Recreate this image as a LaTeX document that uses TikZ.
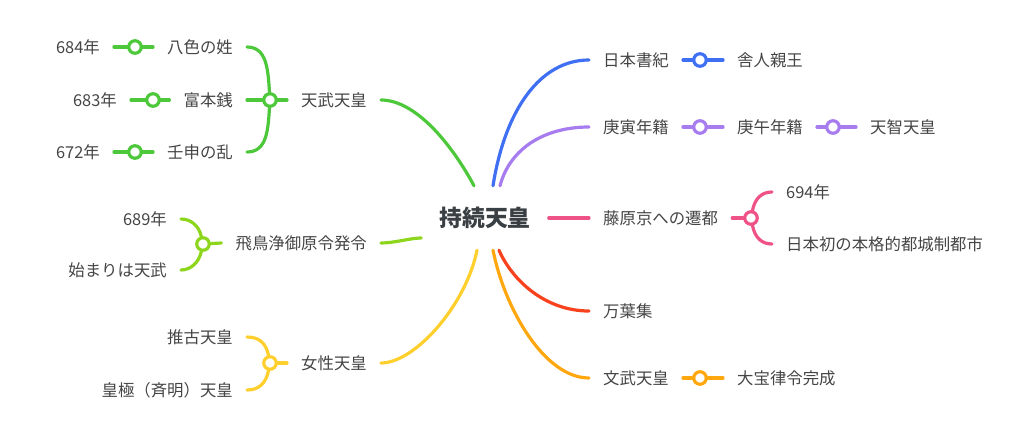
\documentclass[tikz,border=0pt]{standalone}
\usepackage{fontspec}
\setmainfont{Noto Sans CJK JP}
\definecolor{cGreen}{HTML}{4CC83A}
\definecolor{cLime}{HTML}{8ED51E}
\definecolor{cYellow}{HTML}{FFCF2E}
\definecolor{cBlue}{HTML}{3F6FF2}
\definecolor{cPurple}{HTML}{A67CEF}
\definecolor{cPink}{HTML}{EF5287}
\definecolor{cRed}{HTML}{F7421D}
\definecolor{cOrange}{HTML}{FFA70F}
\definecolor{cText}{HTML}{454545}
\definecolor{cRoot}{HTML}{3A3F44}
\begin{document}
\begin{tikzpicture}[x=1pt, y=-1pt,
                    knot/.style = {shape = circle,
                                   draw = #1,
                                   fill = white,
                                   line width = 3.2pt,
                                   inner sep = 0pt,
                                   minimum size = 12.5pt},
                    tline/.style = {line width = 3.2pt, line cap = round},
                    lbl/.style = {font = \fontsize{16.4}{16.4}\selectfont,
                                  text = cText,
                                  inner xsep = 14pt,
                                  text height = 13.7pt,
                                  text depth = 1.3pt},
                    lleft/.style = {lbl, anchor = east},
                    lright/.style = {lbl, anchor = west},
                    root/.style = {font = \fontsize{22.8}{22.8}\selectfont\bfseries,
                                   text = cRoot,
                                   inner xsep = 18pt,
                                   minimum height = 64pt,
                                   text height = 19.1pt,
                                   text depth = 1.8pt}]
		\useasboundingbox (0,0) rectangle (1023,442);
		\node[root] (c) at (485,218) {持続天皇};
		\coordinate (cg) at ([xshift=-11pt]c.north);
		\coordinate (cb) at ([xshift=8pt]c.north);
		\coordinate (cp) at ([xshift=15pt]c.north);
		\coordinate (cy) at ([xshift=-8pt]c.south);
		\coordinate (co) at ([xshift=8pt]c.south);
		\coordinate (cr) at ([xshift=14pt]c.south);
		\coordinate (cl) at ([yshift=-20pt]c.west);
		% left side
		\node[lleft] (tenmu) at (381,100) {天武天皇};
		\node[lleft] (asuka) at (381,243) {飛鳥浄御原令発令};
		\node[lleft] (josei) at (381,363) {女性天皇};
		\node[lleft] (yakusa) at (247,47) {八色の姓};
		\node[lleft] (fuhon) at (247,100) {富本銭};
		\node[lleft] (jinshin) at (247,152) {壬申の乱};
		\node[lleft] (y684) at (114,47) {684年};
		\node[lleft] (y683) at (131,100) {683年};
		\node[lleft] (y672) at (114,152) {672年};
		\node[lleft] (y689) at (181,219) {689年};
		\node[lleft] (hajime) at (181,270) {始まりは天武};
		\node[lleft] (suiko) at (247,337) {推古天皇};
		\node[lleft] (kogyoku) at (247,390) {皇極（斉明）天皇};
		% right side
		\node[lright] (shoki) at (589,60) {日本書紀};
		\node[lright] (toneri) at (723,60) {舎人親王};
		\node[lright] (koin) at (589,127) {庚寅年籍};
		\node[lright] (kogo) at (723,127) {庚午年籍};
		\node[lright] (tenji) at (856,127) {天智天皇};
		\node[lright] (fujiwara) at (589,218) {藤原京への遷都};
		\node[lright] (y694) at (772,192) {694年};
		\node[lright] (toshi) at (772,244) {日本初の本格的都城制都市};
		\node[lright] (manyo) at (589,311) {万葉集};
		\node[lright] (monmu) at (589,378) {文武天皇};
		\node[lright] (taiho) at (723,378) {大宝律令完成};
		% knots
		\node[knot=cGreen] (k1) at (135,47) {};
		\node[knot=cGreen] (k2) at (153,100) {};
		\node[knot=cGreen] (k3) at (135,152) {};
		\node[knot=cGreen] (kt) at (270,100) {};
		\node[knot=cLime] (ka) at (203,244) {};
		\node[knot=cYellow] (kj) at (270,363) {};
		\node[knot=cBlue] (ks) at (700,60) {};
		\node[knot=cPurple] (kk1) at (700,127) {};
		\node[knot=cPurple] (kk2) at (833,127) {};
		\node[knot=cPink] (kf) at (751,218) {};
		\node[knot=cOrange] (km) at (700,378) {};
		% branches from the root
		\draw[tline, cGreen] (cg) .. controls (455,150) and (418,100) .. (tenmu.east);
		\draw[tline, cLime] (cl) .. controls (410,238) and (395,243) .. (asuka.east);
		\draw[tline, cYellow] (cy) .. controls (466,305) and (415,363) .. (josei.east);
		\draw[tline, cBlue] (cb) .. controls (505,110) and (540,60) .. (shoki.west);
		\draw[tline, cPurple] (cp) .. controls (510,148) and (545,127) .. (koin.west);
		\path[tline, cPink] (c.east) edge (fujiwara.west);
		\draw[tline, cRed] (cr) .. controls (512,280) and (545,311) .. (manyo.west);
		\draw[tline, cOrange] (co) .. controls (505,310) and (545,378) .. (monmu.west);
		% tenmu
		\path[tline, cGreen] (tenmu.west) edge (kt) (kt) edge (fuhon.east);
		\draw[tline, cGreen] (kt) .. controls +(-2,-30) and +(20,0) .. (yakusa.east);
		\draw[tline, cGreen] (kt) .. controls +(-2,30) and +(20,0) .. (jinshin.east);
		\path[tline, cGreen] (yakusa.west) edge (k1) (k1) edge (y684.east);
		\path[tline, cGreen] (fuhon.west) edge (k2) (k2) edge (y683.east);
		\path[tline, cGreen] (jinshin.west) edge (k3) (k3) edge (y672.east);
		% asuka
		\path[tline, cLime] (asuka.west) edge (ka);
		\draw[tline, cLime] (ka) .. controls +(-4,-18) and +(10,0) .. (y689.east);
		\draw[tline, cLime] (ka) .. controls +(-4,18) and +(10,0) .. (hajime.east);
		% josei
		\path[tline, cYellow] (josei.west) edge (kj);
		\draw[tline, cYellow] (kj) .. controls +(-4,-20) and +(12,0) .. (suiko.east);
		\draw[tline, cYellow] (kj) .. controls +(-4,20) and +(12,0) .. (kogyoku.east);
		% right side
		\path[tline, cBlue] (shoki.east) edge (ks) (ks) edge (toneri.west);
		\path[tline, cPurple] (koin.east) edge (kk1) (kk1) edge (kogo.west);
		\path[tline, cPurple] (kogo.east) edge (kk2) (kk2) edge (tenji.west);
		\path[tline, cPink] (fujiwara.east) edge (kf);
		\draw[tline, cPink] (kf) .. controls +(4,-20) and +(-10,0) .. (y694.west);
		\draw[tline, cPink] (kf) .. controls +(4,20) and +(-10,0) .. (toshi.west);
		\path[tline, cOrange] (monmu.east) edge (km) (km) edge (taiho.west);
	\end{tikzpicture}
\end{document}
